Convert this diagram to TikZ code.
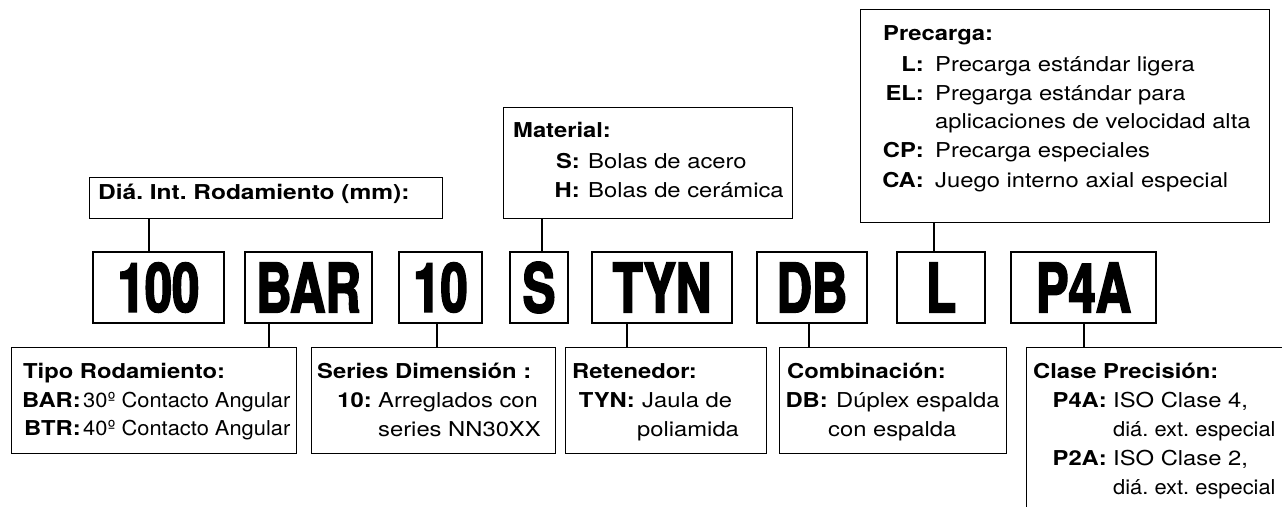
\documentclass[tikz,border=0pt]{standalone}
\usepackage{fontspec}
\setmainfont{TeX Gyre Heros}[FakeStretch=1.16]
\newfontfamily\codefont{TeX Gyre Heros}[FakeStretch=0.72,FakeBold=2.5]
\usetikzlibrary{calc}
\newcommand\bodyfont{\fontsize{20.5}{29}\selectfont\frenchspacing}
\begin{document}
\begin{tikzpicture}[x=1pt,y=-1pt,
  box/.style={draw, line width=1.3pt, inner sep=0pt, anchor=north west},
  code/.style={draw, line width=2.3pt, inner sep=0pt, minimum height=71pt, font=\codefont\bfseries\fontsize{68}{70}\selectfont},
  tx/.style={anchor=base west, inner sep=0pt, font=\bodyfont},
  ky/.style={anchor=base east, inner sep=0pt, font=\bodyfont\bfseries},
  hd/.style={anchor=base west, inner sep=0pt, font=\bodyfont\bfseries},
  conn/.style={line width=1.2pt},
  connt/.style={line width=1.8pt}]
\useasboundingbox (0,0) rectangle (1282,506);
\clip (0,0) rectangle (1282,506);

% code boxes
\node[code, minimum width=131pt] (k100) at (158.5,287.5) {100};
\node[code, minimum width=127pt] (kbar) at (308.5,287.5) {BAR};
\node[code, minimum width=83pt]  (k10)  at (440.5,287.5) {10};
\node[code, minimum width=58pt]  (ks)   at (539,287.5) {S};
\node[code, minimum width=140pt] (ktyn) at (662,287.5) {TYN};
\node[code, minimum width=110pt] (kdb)  at (812,287.5) {DB};
\node[code, minimum width=88pt]  (kl)   at (941,287.5) {L};
\node[code, minimum width=145pt] (kp4a) at (1083.5,287.5) {P4A};

% upper boxes
\node[box, minimum width=353pt, minimum height=41pt] (dia) at (89,177) {};
\node[box, minimum width=289pt, minimum height=111pt] (mat) at (503,107) {};
\node[box, minimum width=409pt, minimum height=213pt] (pre) at (860,9) {};

% lower boxes
\node[box, minimum width=285pt, minimum height=106pt] (tipo) at (11,347) {};
\node[box, minimum width=244pt, minimum height=106pt] (ser) at (311,347) {};
\node[box, minimum width=201pt, minimum height=106pt] (ret) at (565,347) {};
\node[box, minimum width=227pt, minimum height=106pt] (com) at (779,347) {};
\node[box, minimum width=300pt, minimum height=200pt] (cla) at (1026,347) {};

% connectors
\coordinate (c100) at ($(k100.north)+(-9.5,0)$);
\coordinate (cs)   at ($(ks.north)+(3,0)$);
\coordinate (cl)   at ($(kl.north)+(-7,0)$);
\coordinate (cbar) at ($(kbar.south)+(-39.5,0)$);
\coordinate (c10)  at ($(k10.south)+(-3.5,0)$);
\coordinate (ctyn) at ($(ktyn.south)+(-35,0)$);
\coordinate (cdb)  at ($(kdb.south)+(-3,0)$);
\coordinate (cp4a) at ($(kp4a.south)+(0.5,0)$);
\draw[connt] (c100) -- (c100 |- dia.south);
\draw[connt] (cs) -- (cs |- mat.south);
\draw[connt] (cl) -- (cl |- pre.south);
\draw[conn] (cbar) -- (cbar |- tipo.north);
\draw[conn] (c10) -- (c10 |- ser.north);
\draw[conn] (ctyn) -- (ctyn |- ret.north);
\draw[conn] (cdb) -- (cdb |- com.north);
\draw[conn] (cp4a) -- (cp4a |- cla.north);

% Dia text
\node[hd] (diat) at (98,199) {\scalebox{1.03}[1]{Diá. Int. Rodamiento (mm):}};

% Material text
\node[hd] (matt) at (513,137) {Material:};
\node[ky] (mats) at (580,168) {S:};
\node[tx] (matst) at (588,168) {Bolas de acero};
\node[ky] (math) at (580,197) {H:};
\node[tx] (matht) at (588,197) {Bolas de cerámica};

% Precarga text
\node[hd] (pret) at (883,40) {Precarga:};
\node[ky] (prel) at (924,71) {L:};
\node[tx] (prelt) at (935,71) {Precarga estándar ligera};
\node[ky] (preel) at (924,100) {EL:};
\node[tx] (preelt) at (935,100) {Pregarga estándar para};
\node[tx] (preelt2) at (935,128) {aplicaciones de velocidad alta};
\node[ky] (precp) at (924,157) {CP:};
\node[tx] (precpt) at (935,157) {Precarga especiales};
\node[ky] (preca) at (924,187) {CA:};
\node[tx] (precat) at (935,187) {Juego interno axial especial};

% Tipo text
\node[hd] (tipot) at (23,378) {Tipo Rodamiento:};
\node[ky] (tipob) at (81,407) {BAR:};
\node[tx] (tipobt) at (83,407) {\scalebox{0.92}[1]{30º Contacto Angular}};
\node[ky] (tipoc) at (81,435) {BTR:};
\node[tx] (tipoct) at (83,435) {\scalebox{0.92}[1]{40º Contacto Angular}};

% Series text
\node[hd] (sert) at (317,378) {Series Dimensión :};
\node[ky] (ser10) at (372,407) {10:};
\node[tx] (ser10t) at (378,407) {Arreglados con};
\node[tx] (ser10t2) at (378,436) {series NN30XX};

% Retenedor text
\node[hd] (rett) at (572,378) {Retenedor:};
\node[ky] (rettyn) at (635,407) {TYN:};
\node[tx] (rettynt) at (642,407) {Jaula de};
\node[tx] (rettynt2) at (637,436) {poliamida};

% Combinacion text
\node[hd] (comt) at (787,378) {Combinación:};
\node[ky] (comdb) at (828,407) {DB:};
\node[tx] (comdbt) at (836,407) {Dúplex espalda};
\node[tx] (comdbt2) at (828,436) {con espalda};

% Clase text
\node[hd] (clat) at (1033,378) {Clase Precisión:};
\node[ky] (clap4) at (1107,407) {P4A:};
\node[tx] (clap4t) at (1113,407) {ISO Clase 4,};
\node[tx] (clap4t2) at (1113,436) {\scalebox{0.92}[1]{diá. ext. especial}};
\node[ky] (clap2) at (1107,465) {P2A:};
\node[tx] (clap2t) at (1113,465) {ISO Clase 2,};
\node[tx] (clap2t2) at (1113,494) {\scalebox{0.92}[1]{diá. ext. especial}};
\end{tikzpicture}
\end{document}
